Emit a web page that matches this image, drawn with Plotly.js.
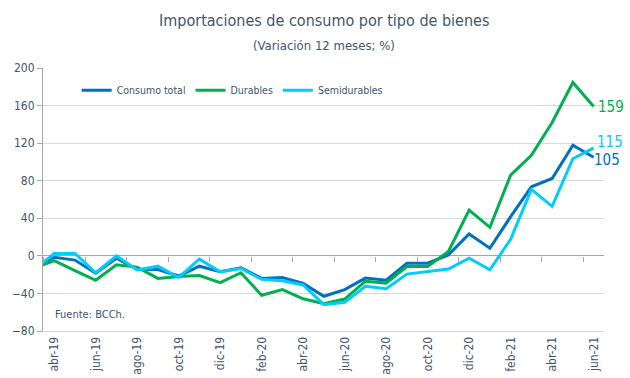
<!DOCTYPE html>
<html>
<head>
<meta charset="utf-8">
<script src="https://cdn.plot.ly/plotly-3.0.1.min.js"></script>
<style>
html,body{margin:0;padding:0;background:#fff;}
#chart{width:630px;height:378px;}
</style>
</head>
<body>
<div id="chart"></div>
<script>
// Months (mar-19 lies just left of the visible range, as in the reference)
const months = ["mar-19","abr-19","may-19","jun-19","jul-19","ago-19","sep-19","oct-19","nov-19","dic-19",
  "ene-20","feb-20","mar-20","abr-20","may-20","jun-20","jul-20","ago-20","sep-20","oct-20","nov-20","dic-20",
  "ene-21","feb-21","mar-21","abr-21","may-21","jun-21"];
const tickLabels = ["abr-19","jun-19","ago-19","oct-19","dic-19","feb-20","abr-20","jun-20","ago-20","oct-20","dic-20","feb-21","abr-21","jun-21"];

const consumoTotal = [-13,-1.5,-4.5,-18.5,-2.5,-14.5,-14.5,-21.5,-11,-17,-12.8,-24,-23,-29.3,-43,-36,-23.7,-26,-7.8,-7.8,1,23.3,8.1,41.7,73.5,82.4,117.7,105];
const durables     = [-13.6,-5,-15.7,-26,-9.5,-12,-24,-22,-21,-28.6,-18,-42,-36,-45.7,-51,-46,-27,-29,-11.3,-11.3,4.6,48.8,30.4,86,107,142,184.6,159];
const semidurables = [-15.5,2.5,2.5,-18,0,-15,-11,-23,-3.5,-17,-13.5,-25,-26.5,-31,-52,-49.5,-32.5,-35,-19.4,-16.6,-14,-2.5,-14.9,17.7,70.7,52.7,103.4,115];

const yTicks = [-80,-40,0,40,80,120,160,200];
const boundaryTicks = [0.5,2.5,4.5,6.5,8.5,10.5,12.5,14.5,16.5,18.5,20.5,22.5,24.5,26.5];

const FONT = "'DejaVu Sans Condensed', 'Liberation Sans Narrow', 'Roboto', sans-serif";
const TXT = "#44546a";
const C_TOT = "#0070c0", C_DUR = "#00b050", C_SEMI = "#00ccff";

const traces = [
  {x: months, y: consumoTotal, name: "Consumo total", type: "scatter", mode: "lines", line: {color: C_TOT, width: 3}},
  {x: months, y: durables, name: "Durables", type: "scatter", mode: "lines", line: {color: C_DUR, width: 3}},
  {x: months, y: semidurables, name: "Semidurables", type: "scatter", mode: "lines", line: {color: C_SEMI, width: 3}},
  {x: [], y: [], xaxis: "x2", showlegend: false, hoverinfo: "skip", type: "scatter"}
];

const last = months.length - 1;
const layout = {
  width: 630, height: 378,
  margin: {l: 43, r: 26, t: 68, b: 47},
  paper_bgcolor: "#fff", plot_bgcolor: "#fff",
  font: {family: FONT, color: TXT, size: 12},
  xaxis: {type: "category", range: [0.46, 27.5], tickvals: tickLabels, ticktext: tickLabels, tickangle: -90,
    ticks: "", showgrid: false, showline: true, linecolor: "#d9d9d9", linewidth: 1, zeroline: false,
    tickfont: {family: FONT, size: 12, color: TXT}},
  xaxis2: {type: "linear", overlaying: "x", anchor: "free", position: 80/280, range: [0.46, 27.5],
    tickvals: boundaryTicks, showticklabels: false, ticks: "outside", ticklen: 5, tickcolor: "#a6a6a6",
    showgrid: false, showline: false, zeroline: false},
  yaxis: {range: [-80, 200], tickvals: yTicks, ticks: "outside", ticklen: 5, tickcolor: "#a6a6a6",
    showline: true, linecolor: "#a6a6a6", gridcolor: "#d9d9d9", gridwidth: 1,
    zeroline: true, zerolinecolor: "#a6a6a6", zerolinewidth: 1,
    tickfont: {family: FONT, size: 12, color: TXT}},
  legend: {orientation: "h", x: 0.06, xanchor: "left", y: 0.915, yanchor: "middle", bgcolor: "rgba(0,0,0,0)",
    font: {family: FONT, size: 10.5, color: TXT}, itemwidth: 30},
  showlegend: true,
  annotations: [
    {xref: "paper", yref: "paper", x: 0.5, y: 1, yshift: 48, text: "Importaciones de consumo por tipo de bienes",
      showarrow: false, xanchor: "center", yanchor: "middle", font: {family: FONT, size: 16, color: TXT}},
    {xref: "paper", yref: "paper", x: 0.5, y: 1, yshift: 23, text: "(Variación 12 meses; %)",
      showarrow: false, xanchor: "center", yanchor: "middle", font: {family: FONT, size: 13, color: TXT}},
    {x: months[last], y: durables[last], text: String(durables[last]), showarrow: false, xanchor: "left", xshift: 2,
      font: {family: FONT, size: 15, color: C_DUR}},
    {x: months[last], y: semidurables[last], text: String(semidurables[last]), showarrow: false, xanchor: "left", xshift: 1, yshift: 6,
      font: {family: FONT, size: 15, color: C_SEMI}},
    {x: months[last], y: consumoTotal[last], text: String(consumoTotal[last]), showarrow: false, xanchor: "left", xshift: -2, yshift: -3,
      font: {family: FONT, size: 15, color: C_TOT}},
    {xref: "paper", yref: "paper", x: 0.017, y: 0.07, yshift: -10, text: "Fuente: BCCh.", showarrow: false, xanchor: "left",
      font: {family: FONT, size: 11, color: TXT}}
  ]
};

Plotly.newPlot("chart", traces, layout, {displayModeBar: false, staticPlot: true});
</script>
</body>
</html>
